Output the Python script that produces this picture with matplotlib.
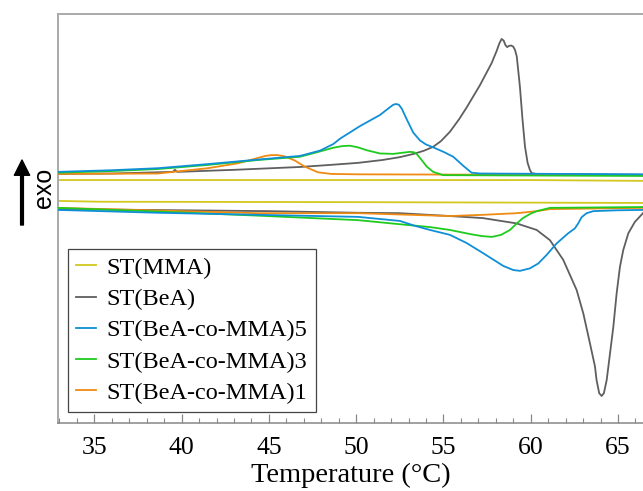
import matplotlib
matplotlib.use("Agg")
import matplotlib.pyplot as plt
from matplotlib.ticker import MultipleLocator

# DSC traces, temperature (°C) vs heat flow (a.u.)
# upper trace of each sample = cooling (exo up), lower trace = heating
mma_cool_t = [32.9, 60.0, 66.43]
mma_cool_y = [59.4, 59.4, 59.2]
mma_heat_t = [32.9, 35.3, 50.0, 66.43]
mma_heat_y = [54.3, 54.1, 54.0, 53.8]

bea_cool_t = [32.9, 36.0, 39.5, 39.62, 39.75, 43.0, 46.8, 48.5, 50.1, 51.5, 52.5, 53.3,
              53.9, 54.4, 54.85, 55.37, 55.9, 56.35, 57.09, 57.76, 58.05, 58.2, 58.33,
              58.45, 58.55, 58.65, 58.75, 58.88, 59.0, 59.1, 59.2, 59.3, 59.38, 59.53,
              59.67, 59.82, 59.95, 60.05, 60.3, 66.43]
bea_cool_y = [60.9, 61.0, 61.4, 61.9, 61.4, 61.9, 62.6, 63.1, 63.6, 64.3, 65.0, 65.8,
              66.6, 67.5, 68.9, 71.2, 74.3, 77.3, 82.6, 88.0, 91.0, 92.8, 93.9,
              93.5, 92.4, 91.9, 92.2, 92.3, 92.0, 91.2, 89.6, 85.5, 82.2, 74.1,
              67.6, 63.6, 61.9, 61.1, 60.9, 60.7]
bea_heat_t = [32.9, 45.0, 50.1, 52.5, 55.37, 57.26, 59.19, 60.34, 61.1, 61.86, 62.63,
              63.01, 63.39, 63.68, 63.77, 63.92, 64.06, 64.19, 64.35, 64.54, 64.73, 64.92,
              65.11, 65.3, 65.59, 65.97, 66.43]
bea_heat_y = [52.3, 51.8, 51.4, 51.3, 50.6, 50.1, 48.8, 47.2, 44.7, 39.9, 32.5,
              26.8, 19.5, 13.8, 10.5, 7.3, 6.6, 7.3, 10.5, 17.0, 23.5, 31.7,
              38.2, 42.3, 46.4, 49.2, 51.3]

co5_cool_t = [32.9, 36.0, 38.65, 41.5, 44.37, 46.78, 47.93, 48.69, 49.07, 50.22, 51.36,
              51.93, 52.12, 52.28, 52.45, 52.62, 52.89, 53.27, 53.65, 54.0, 54.41, 55.0,
              55.56, 56.13, 56.61, 57.09, 66.43]
co5_cool_y = [61.4, 61.8, 62.3, 63.3, 64.4, 65.3, 66.6, 68.2, 69.5, 72.6, 75.3,
              77.2, 77.8, 78.0, 77.8, 76.8, 74.3, 71.0, 69.1, 68.1, 67.4, 66.3,
              65.1, 62.9, 61.2, 61.0, 60.8]
co5_heat_t = [32.9, 38.65, 44.37, 50.1, 52.51, 53.37, 54.23, 55.37, 56.33, 57.28, 58.43,
              59.0, 59.38, 59.95, 60.43, 60.91, 61.48, 62.15, 62.53, 62.72, 62.91, 63.2,
              63.58, 64.92, 66.43]
co5_heat_y = [52.1, 51.4, 50.9, 50.4, 49.4, 48.2, 47.2, 46.0, 44.0, 41.5, 38.4,
              37.4, 37.2, 37.8, 39.0, 41.1, 43.9, 46.4, 47.6, 48.8, 50.3, 51.3,
              51.8, 52.0, 52.1]

co3_cool_t = [32.9, 36.0, 38.65, 41.5, 44.37, 46.78, 47.93, 48.69, 49.2, 49.64, 50.1,
              50.6, 51.36, 52.13, 52.7, 53.08, 53.3, 53.46, 53.75, 54.04, 54.41, 54.99,
              66.43]
co3_cool_y = [61.2, 61.6, 62.1, 63.1, 64.3, 65.1, 66.4, 67.3, 67.7, 67.8, 67.4,
              66.7, 65.9, 65.8, 66.1, 66.3, 66.2, 65.8, 64.3, 62.7, 61.4, 60.6,
              60.4]
co3_heat_t = [32.9, 38.65, 44.37, 50.1, 52.5, 54.23, 55.37, 56.52, 57.2, 57.78, 58.3,
              58.81, 59.2, 59.55, 60.0, 60.35, 61.1, 66.43]
co3_heat_y = [52.6, 51.7, 50.7, 49.6, 48.6, 47.9, 47.2, 46.2, 45.7, 45.5, 46.0,
              47.2, 48.8, 50.1, 51.2, 51.8, 52.6, 52.8]

co1_cool_t = [32.9, 38.65, 41.51, 43.23, 44.37, 44.8, 45.14, 45.5, 45.9, 46.48, 47.05,
              47.81, 48.57, 50.1, 66.43]
co1_cool_y = [60.9, 61.0, 62.3, 63.5, 64.8, 65.3, 65.5, 65.5, 65.2, 64.2, 62.7,
              61.3, 60.9, 60.8, 60.6]
co1_heat_t = [32.9, 44.37, 50.1, 55.37, 57.26, 59.21, 60.35, 61.1, 66.43]
co1_heat_y = [52.6, 51.3, 51.3, 50.6, 50.9, 51.3, 51.8, 52.3, 52.6]

labels = ["ST(MMA)", "ST(BeA)", "ST(BeA-co-MMA)5", "ST(BeA-co-MMA)3", "ST(BeA-co-MMA)1"]
colors = ["#d2c81e", "#5f5f5f", "#0f8fd6", "#1ecb1e", "#ef8a12"]

fig = plt.figure(figsize=(6.43, 4.91), dpi=100)
ax = fig.add_axes([58 / 643, 68 / 491, 585 / 643, 409 / 491])

curves = [
    (mma_cool_t, mma_cool_y, mma_heat_t, mma_heat_y),
    (bea_cool_t, bea_cool_y, bea_heat_t, bea_heat_y),
    (co5_cool_t, co5_cool_y, co5_heat_t, co5_heat_y),
    (co3_cool_t, co3_cool_y, co3_heat_t, co3_heat_y),
    (co1_cool_t, co1_cool_y, co1_heat_t, co1_heat_y),
]
zorders = [2, 2.5, 4, 3.5, 3]
for (ct, cy, ht, hy), lab, c, z in zip(curves, labels, colors, zorders):
    ax.plot(ct, cy, color=c, lw=1.3, label=lab, zorder=z, solid_joinstyle="round")
    ax.plot(ht, hy, color=c, lw=1.3, zorder=z, solid_joinstyle="round")

ax.set_xlim(32.92, 66.43)
ax.set_ylim(0, 100)
ax.set_yticks([])
ax.xaxis.set_major_locator(MultipleLocator(5))
ax.xaxis.set_minor_locator(MultipleLocator(1))
ax.tick_params(axis="x", which="major", direction="in", length=6.5, width=0.9,
               color="#888888", pad=10, labelsize=18.5)
ax.tick_params(axis="x", which="minor", direction="in", length=3.3, width=0.8,
               color="#888888")
for lbl in ax.get_xticklabels():
    lbl.set_fontfamily("Liberation Serif")
ax.spines["right"].set_visible(False)
for s in ["top", "left"]:
    ax.spines[s].set_color("#aaaaaa")
    ax.spines[s].set_linewidth(1.4)
ax.spines["bottom"].set_color("#888888")
ax.spines["bottom"].set_linewidth(1.1)

ax.set_xlabel("Temperature (°C)", fontfamily="Liberation Serif", fontsize=20.5, labelpad=2.5)

leg = ax.legend(loc="lower left", bbox_to_anchor=(0.017, 0.027), borderaxespad=0,
                prop={"family": "Liberation Serif", "size": 17.5}, fancybox=False,
                framealpha=1, edgecolor="#444444", handlelength=0.82,
                handletextpad=0.45, labelspacing=0.38, borderpad=0.33)
leg.get_frame().set_linewidth(0.9)

# exo arrow
fig.text(43.5 / 643, 303 / 491, "exo", rotation=90, ha="center", va="center",
         fontfamily="Liberation Sans", fontsize=18)
ax.annotate("", xy=(22, 331), xycoords="figure pixels", xytext=(22, 266),
            textcoords="figure pixels",
            arrowprops=dict(facecolor="black", edgecolor="black", width=2.0,
                            headwidth=11, headlength=11, shrink=0))

fig.savefig("out.png", dpi=100)
